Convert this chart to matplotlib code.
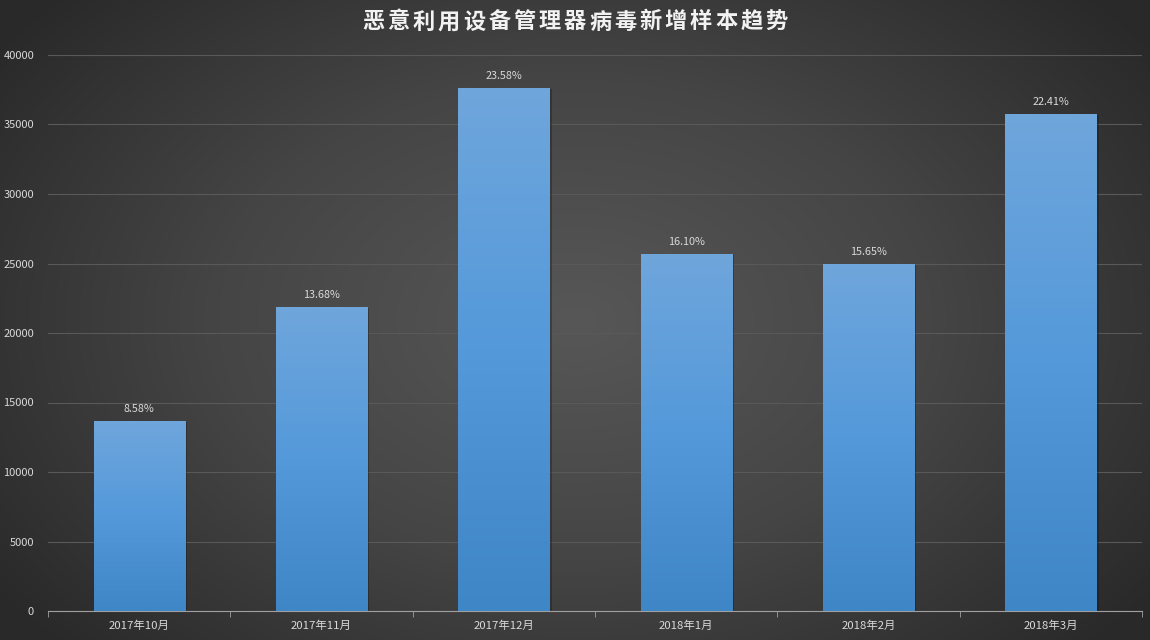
import numpy as np
import matplotlib
matplotlib.use("Agg")
import matplotlib.pyplot as plt
from matplotlib import patheffects as pe
from matplotlib.colors import LinearSegmentedColormap

plt.rcParams['font.family'] = ['Noto Sans CJK SC', 'DejaVu Sans']

title = "恶意利用设备管理器病毒新增样本趋势"
categories = ["2017年10月", "2017年11月", "2017年12月", "2018年1月", "2018年2月", "2018年3月"]
values = [13700, 21850, 37660, 25710, 24990, 35790]
pct_labels = ["8.58%", "13.68%", "23.58%", "16.10%", "15.65%", "22.41%"]

W, H = 1150, 640
fig = plt.figure(figsize=(W / 100, H / 100), dpi=100)

# radial background
bg_ax = fig.add_axes([0, 0, 1, 1], zorder=-10)
yy, xx = np.mgrid[0:H, 0:W]
cx, cy = W * 0.5, H * 0.5
r = np.sqrt(((xx - cx) / (W * 0.62)) ** 2 + ((yy - cy) / (H * 0.75)) ** 2)
r = np.clip(r, 0, 1)
bg_cmap = LinearSegmentedColormap.from_list("bg", ["#575757", "#454545", "#292929"])
bg_ax.imshow(r, cmap=bg_cmap, vmin=0, vmax=1, aspect='auto', extent=[0, 1, 0, 1])
bg_ax.set_axis_off()

ax = fig.add_axes([48 / W, 1 - 611 / H, (1142 - 48) / W, (611 - 55) / H])
ax.patch.set_alpha(0)
x = np.arange(len(categories))
bars = ax.bar(x, values, width=0.5, color='none', edgecolor='none', zorder=3)

bar_cmap = LinearSegmentedColormap.from_list("bar", ["#3f86c7", "#5499da", "#6fa6dc"])
grad = np.linspace(0, 1, 256).reshape(-1, 1)
for b in bars:
    x0, w, h = b.get_x(), b.get_width(), b.get_height()
    shadow = plt.Rectangle((x0, 0), w, h, facecolor='#1a1a1a', edgecolor='none', alpha=0.0,
                           zorder=2,
                           path_effects=[pe.SimplePatchShadow(offset=(1.5, -0.8), alpha=0.35,
                                                              shadow_rgbFace='#151515')])
    im = ax.imshow(grad, cmap=bar_cmap, origin='lower', aspect='auto',
                   extent=[x0, x0 + w, 0, h], zorder=3)
    im.set_clip_path(b)
    ax.add_patch(shadow)

for xi, v, lab in zip(x, values, pct_labels):
    ax.annotate(lab, (xi, v), xytext=(0, 5), textcoords='offset points',
                ha='center', va='bottom', color='#d9d9d9', fontsize=7.8)

ax.set_xlim(-0.5, len(categories) - 0.5)
ax.set_ylim(0, 40000)
ax.set_yticks(np.arange(0, 40001, 5000))
ax.yaxis.grid(True, color='#595959', linewidth=0.8, zorder=0)
ax.set_axisbelow(True)
ax.tick_params(axis='y', length=0, colors='#d9d9d9', labelsize=8, pad=10)
ax.set_xticks(x)
ax.set_xticklabels(categories)
ax.set_xticks(np.arange(-0.5, len(categories), 1), minor=True)
ax.tick_params(axis='x', which='major', length=0, colors='#d9d9d9', labelsize=8.2, pad=7)
ax.tick_params(axis='x', which='minor', length=4, color='#a0a0a0')
for s in ['top', 'right', 'left']:
    ax.spines[s].set_visible(False)
ax.spines['bottom'].set_color('#a0a0a0')

# title with letter spacing
step = 25.2
x_start = 575 - step * (len(title) - 1) / 2
for i, ch in enumerate(title):
    fig.text((x_start + i * step) / W, 1 - 22 / H, ch, ha='center', va='center',
             color='#f2f2f2', fontsize=16, fontweight='bold')

fig.savefig("out.png", dpi=100)
